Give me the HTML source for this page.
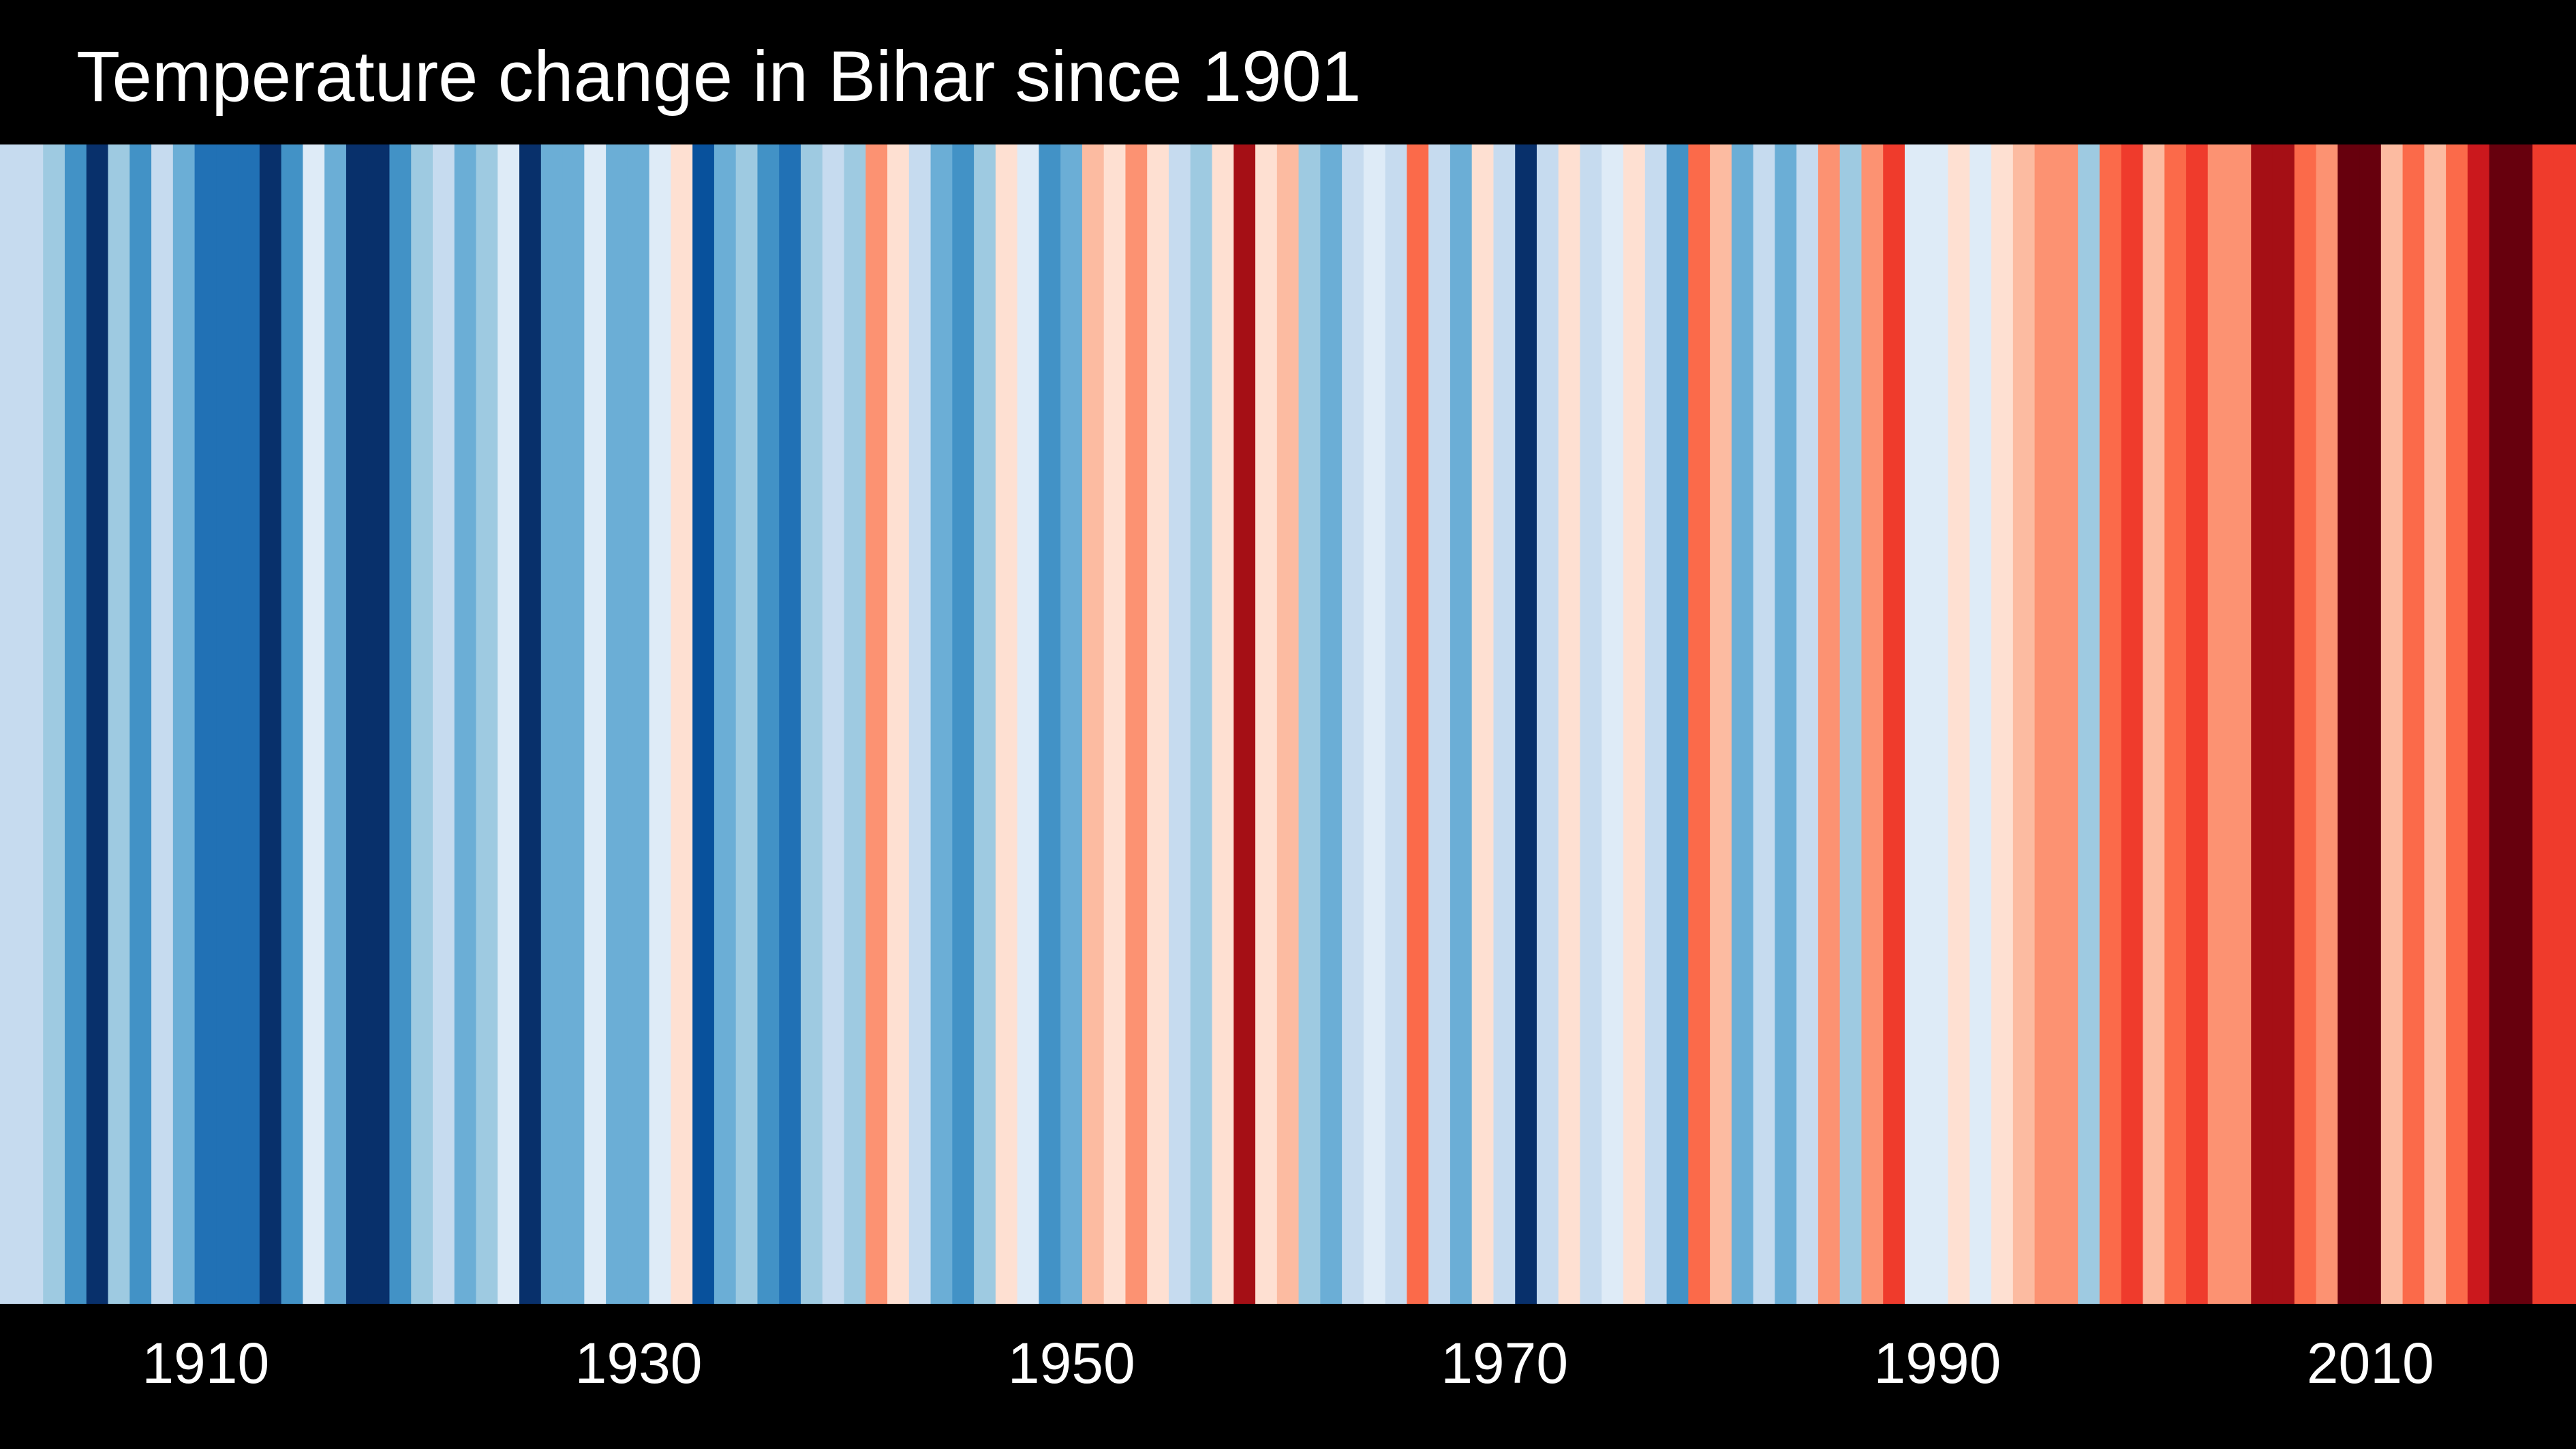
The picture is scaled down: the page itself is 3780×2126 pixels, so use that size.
<!DOCTYPE html>
<html><head><meta charset="utf-8"><style>
html,body{margin:0;padding:0;background:#000;}
svg{display:block;}
text{font-family:"Liberation Sans",sans-serif;fill:#fff;}
</style></head><body>
<svg id="chart" width="3780" height="2126" viewBox="0 0 3780 2126" xmlns="http://www.w3.org/2000/svg">
<rect x="0" y="0" width="3780" height="2126" fill="#000"/>
<text x="112" y="148" font-size="105">Temperature change in Bihar since 1901</text>
<g id="stripes"></g>
<g id="xaxis"></g>
</svg>
<script>
const startYear = 1901;
// anomaly class per year: negative = cooler (blue), positive = warmer (red), magnitude 1..8
const anomalyLevels = [
-2,-2,-3,-5,-8,-3,-5,-2,-4,-6,-6,-6,-8,-5,-1,-4,-8,-8,-5,-3,
-2,-4,-3,-1,-8,-4,-4,-1,-4,-4,-1,1,-7,-4,-3,-5,-6,-3,-2,-3,
3,1,-2,-4,-5,-3,1,-1,-5,-4,2,1,3,1,-2,-3,1,7,1,2,
-3,-4,-2,-1,-2,4,-2,-4,1,-2,-8,-2,1,-2,-1,1,-2,-5,4,2,
-4,-2,-4,-2,3,-3,3,5,-1,-1,1,-1,1,2,3,3,-3,4,5,2,
4,5,3,3,7,7,4,3,8,8,2,4,2,4,6,8,8,5,5
];
const tickYears = [1910,1930,1950,1970,1990,2010];
const blues = ["#deebf7","#c6dbef","#9ecae1","#6baed6","#4292c6","#2171b5","#08519c","#08306b"];
const reds = ["#fee0d2","#fcbba1","#fc9272","#fb6a4a","#ef3b2c","#cb181d","#a50f15","#67000d"];
const NS="http://www.w3.org/2000/svg";
const chartWidth=3780, stripeTop=212, stripeBottom=1913;
const stripeCount=anomalyLevels.length;
const bw=chartWidth/stripeCount;
function xScale(year){return (year-startYear)*bw;}
function colorOf(v){return v<0?blues[Math.min(8,-v)-1]:reds[Math.min(8,v)-1];}
const sg=document.getElementById('stripes');
anomalyLevels.forEach((v,i)=>{
  const r=document.createElementNS(NS,'rect');
  
  
  r.setAttribute('x',xScale(startYear+i)-0.3);
  r.setAttribute('y',stripeTop);
  r.setAttribute('width',bw+0.6);
  r.setAttribute('height',stripeBottom-stripeTop);
  r.setAttribute('fill',colorOf(v));
  sg.appendChild(r);
});
const xg=document.getElementById('xaxis');
tickYears.forEach(y=>{
  const t=document.createElementNS(NS,'text');
  
  
  t.setAttribute('x',xScale(y)+bw/2);
  t.setAttribute('y',2029);
  t.setAttribute('font-size','84');
  t.setAttribute('text-anchor','middle');
  t.textContent=y;
  xg.appendChild(t);
});
</script>
</body></html>
